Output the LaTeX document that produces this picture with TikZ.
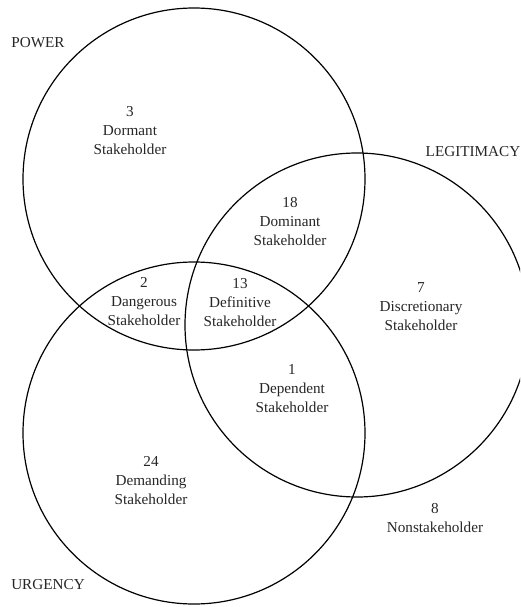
\documentclass[tikz,border=0pt]{standalone}
\usepackage{fontspec}
\setmainfont{Liberation Serif}
\newfontfamily\tnrfont{Liberation Serif}
\begin{document}
\begin{tikzpicture}[x=1pt,y=-1pt,
  ring/.style={draw=black,line width=1.2pt},
  lbl/.style={inner sep=0pt,align=center,text=black!85,font=\tnrfont\fontsize{15.2}{19}\selectfont},
  setname/.style={inner sep=0pt,text=black!85,font=\tnrfont\fontsize{15.2}{19}\selectfont}]
\useasboundingbox (0,0) rectangle (520,607);
\begin{scope}
\clip (0,0) rectangle (520,607);
\draw[ring] (194,179) circle[radius=171];
\draw[ring] (357,325) circle[radius=172];
\draw[ring] (194,433) circle[radius=171];
\end{scope}
\node[setname] (power) at (38,43) {POWER};
\node[setname] (legit) at (473,152) {LEGITIMACY};
\node[setname] (urgency) at (48,585) {URGENCY};
\node[lbl] (dormant) at (130,131) {3\\Dormant\\Stakeholder};
\node[lbl] (dominant) at (290,222) {18\\Dominant\\Stakeholder};
\node[lbl] (dangerous) at (144,302) {2\\Dangerous\\Stakeholder};
\node[lbl] (definitive) at (240,303) {13\\Definitive\\Stakeholder};
\node[lbl] (discretionary) at (421,307) {7\\Discretionary\\Stakeholder};
\node[lbl] (dependent) at (292,389) {1\\Dependent\\Stakeholder};
\node[lbl] (demanding) at (151,481) {24\\Demanding\\Stakeholder};
\node[lbl] (non) at (435,518) {8\\Nonstakeholder};
\end{tikzpicture}
\end{document}
